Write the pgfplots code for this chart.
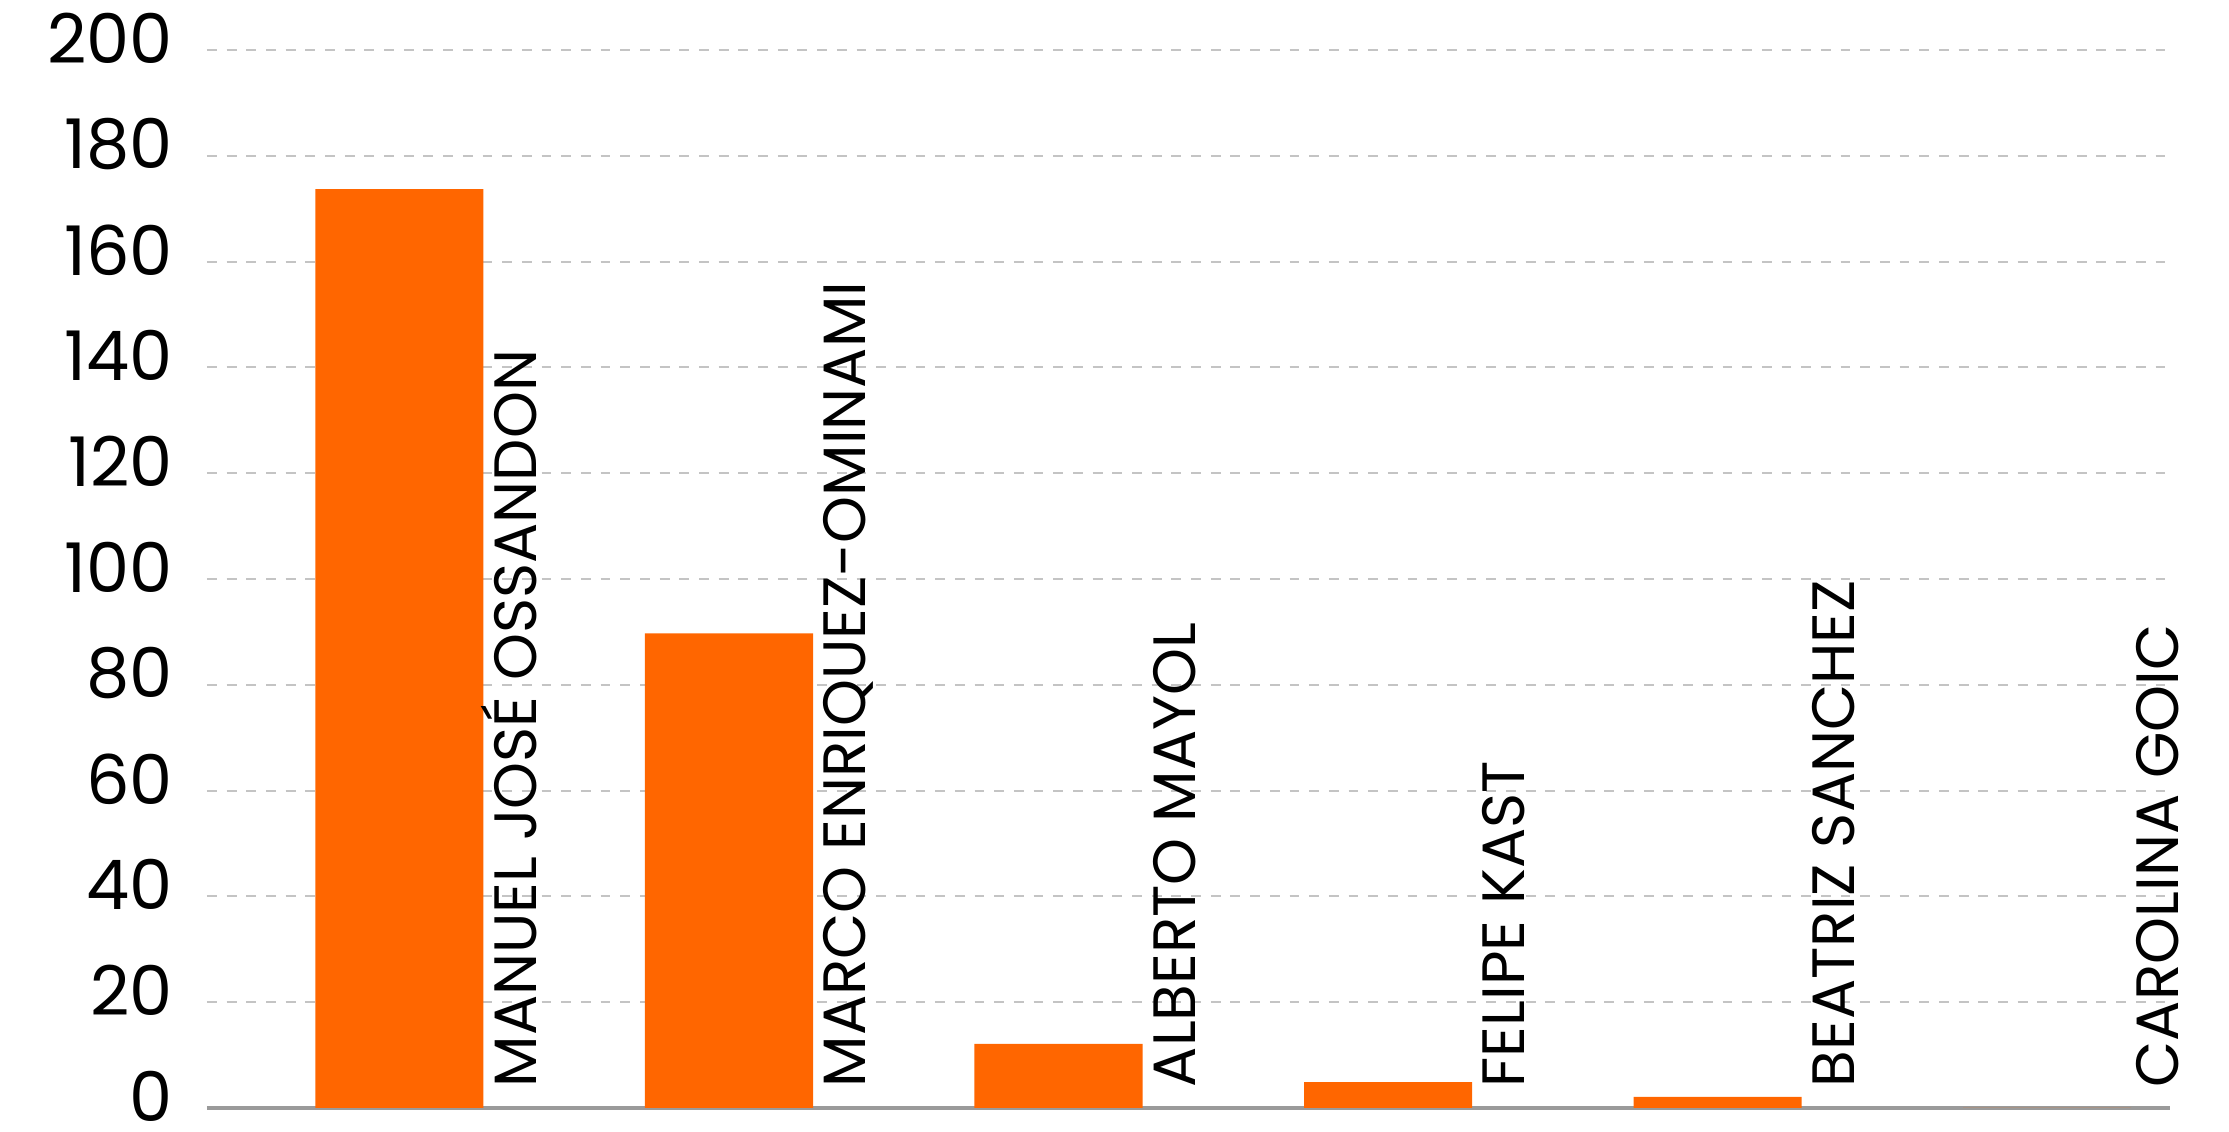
\documentclass[border=0pt]{standalone}
\usepackage{fontspec}
\setmainfont{Poppins}
\usepackage{pgfplots}
\pgfplotsset{compat=1.18}

\definecolor{barorange}{HTML}{FF6600}
\definecolor{gridgray}{HTML}{C4C4C4}
\definecolor{basegray}{HTML}{9A9A9A}

\tikzset{name/.style={rotate=90, anchor=base west, inner sep=0pt,
    font=\fontsize{17}{19}\selectfont}}

\begin{document}
\begin{tikzpicture}
\begin{axis}[
    scale only axis,
    width=196.3mm, height=105.8mm,
    xmin=-0.584, xmax=5.373,
    ymin=0, ymax=200,
    ytick={0,20,...,200},
    xtick=\empty,
    clip=false,
    axis line style={draw=none},
    tick style={draw=none},
    major tick length=0pt,
    ymajorgrids,
    major grid style={gridgray, line width=0.55pt, dash pattern=on 2.8pt off 2.8pt},
    extra y ticks={0},
    extra y tick labels={},
    extra y tick style={major grid style={solid, basegray, line width=1pt}},
    /pgf/number format/assume math mode=true,
    yticklabel style={font=\fontsize{19.5}{22}\selectfont, xshift=-6.2pt, yshift=3.3pt},
]
\addplot[ybar, bar width=0.51, fill=barorange, draw=none] coordinates {
    (0,173.7) (1,89.7) (2,12.1) (3,4.9) (4,2.1) (5,0)
};
% names stand beside the bars, read from bottom to top
\node[name] at (axis cs:0.415,3.8) {MANUEL JOSÉ OSSANDON};
\node[name] at (axis cs:1.415,3.8) {MARCO ENRIQUEZ-OMINAMI};
\node[name] at (axis cs:2.415,3.8) {ALBERTO MAYOL};
\node[name] at (axis cs:3.415,3.8) {FELIPE KAST};
\node[name] at (axis cs:4.415,3.8) {BEATRIZ SANCHEZ};
\node[name] at (axis cs:5.40,3.8) {CAROLINA GOIC};
\end{axis}
\pgfresetboundingbox
\path ([shift={(-20.7mm,-2.4mm)}]current axis.south west) rectangle ([shift={(5.9mm,5mm)}]current axis.north east);
\end{tikzpicture}
\end{document}
